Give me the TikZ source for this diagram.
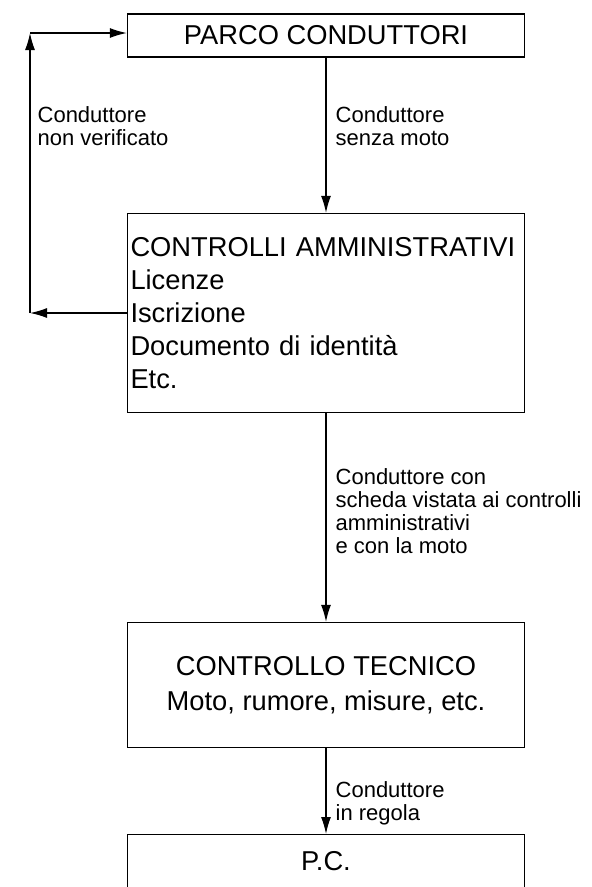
\documentclass[tikz,border=0pt]{standalone}
\usepackage{fontspec}
\setmainfont{Liberation Sans}
\usetikzlibrary{arrows.meta}
\tikzset{
  box/.style={draw,minimum width=397pt,inner sep=0pt,font=\fontsize{27.3}{33}\selectfont},
  lab/.style={anchor=west,inner sep=0pt,align=left,font=\fontsize{22}{23}\selectfont}
}
\begin{document}
\begin{tikzpicture}[x=1pt,y=-1pt,>={Latex[length=17pt,width=10pt]},line width=1.3pt]
\useasboundingbox (0,0) rectangle (592,887);
\clip (0,0) rectangle (592,887);
\node[box,minimum height=43pt] (parco) at (326,35.5) {PARCO CONDUTTORI};
\node[box,minimum height=199pt,text width=391pt,align=left] (amm) at (326,313)
  {CONTROLLI AMMINISTRATIVI\\Licenze\\Iscrizione\\Documento di identità\\Etc.};
\node[box,minimum height=125pt,align=center,font=\fontsize{27.3}{35}\selectfont] (tec) at (326,685)
  {CONTROLLO TECNICO\\Moto, rumore, misure, etc.};
\node[box,minimum height=56pt,text depth=4pt,anchor=north] (pc) at (326,834) {P.C.};
\coordinate (cb) at (30,313);
\coordinate (ct) at (30,33);
\draw[->] (parco) -- (amm) node[lab,pos=0.44,xshift=9pt] {Conduttore\\senza moto};
\draw[->] (amm) -- (tec) node[lab,pos=0.47,xshift=9pt] {Conduttore con\\scheda vistata ai controlli\\amministrativi\\e con la moto};
\draw[->] (tec) -- (pc) node[lab,pos=0.64,xshift=9pt] {Conduttore\\in regola};
\draw[->] (amm.west) -- (cb);
\draw[->] (cb) -- (ct) node[lab,pos=0.668,xshift=7pt] {Conduttore\\non verificato};
\draw[->] (ct) -- (ct -| parco.west);
\end{tikzpicture}
\end{document}
